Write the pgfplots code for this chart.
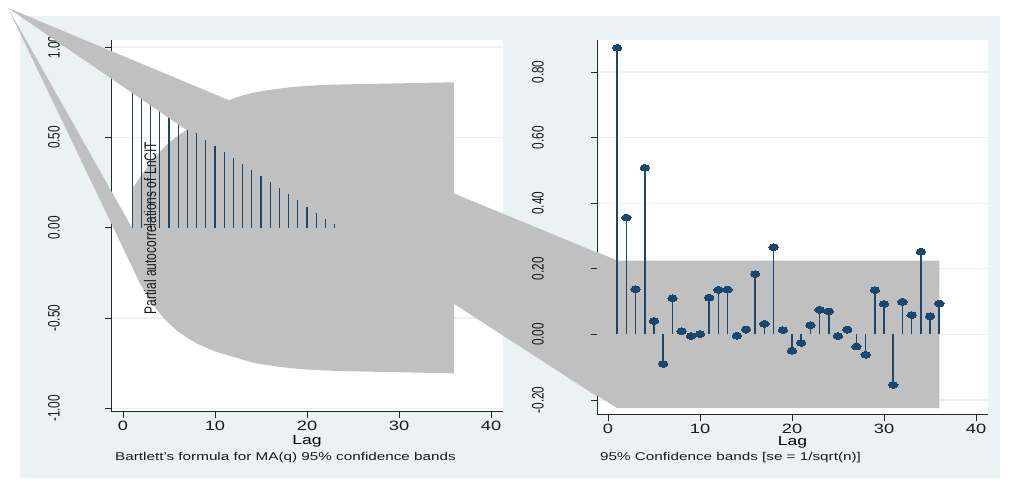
\documentclass[border=0pt]{standalone}
\usepackage{pgfplots}
\pgfplotsset{compat=1.18}
\usepackage{fontspec}
\setmainfont{Liberation Sans}
\usepackage{graphicx}
\definecolor{bgc}{HTML}{EAF2F3}
\definecolor{gridc}{HTML}{EAF2F3}
\definecolor{band}{HTML}{C0C0C0}
\definecolor{spk}{HTML}{1A476F}
\newcommand\sx[1]{\scalebox{1.35}[1]{#1}}
\newcommand\ry[1]{\scalebox{1.4}[1]{\rotatebox{90}{#1}}}
\pgfplotsset{
  stata/.style={
    scale only axis, anchor=south west,
    axis x line*=bottom, axis y line*=left,
    axis line style={line width=1pt, black!85},
    tick style={line width=0.9pt, black!85},
    major tick length=6pt, tick align=outside,
    axis background/.style={fill=white},
    ymajorgrids, major grid style={line width=1.2pt, gridc},
    xtick={0,10,20,30,40},
    xticklabels={\sx{0},\sx{10},\sx{20},\sx{30},\sx{40}},
    xticklabel style={font=\fontsize{13.5}{14}\selectfont, text=black!90},
    yticklabel style={font=\fontsize{11.8}{13}\selectfont, text=black!90, anchor=center, xshift=-51pt},
    xlabel style={font=\fontsize{13}{14}\selectfont, at={(axis description cs:0.5,0)}, anchor=center},
    clip=false,
  }
}
\begin{document}
\begin{tikzpicture}[x=1pt,y=1pt]
\fill[white] (0,0) rectangle (1011,481);
\fill[bgc] (20,3) rectangle (1000,465);
% ---------------- left panel: autocorrelations ----------------
\begin{axis}[stata, at={(111pt,69pt)}, width=392pt, height=372pt,
  xmin=-1.3, xmax=41.3, ymin=-1.02, ymax=1.039,
  ytick={-1,-0.5,0,0.5,1},
  yticklabels={\ry{-1.00},\ry{-0.50},\ry{0.00},\ry{0.50},\ry{1.00}},
  xlabel={\sx{Lag}}, xlabel style={yshift=-29pt}]
% Bartlett confidence band
\addplot[fill=band, draw=none] coordinates {
(1,0.215) (2,0.29) (3,0.36) (4,0.42) (5,0.47) (6,0.51) (7,0.545) (8,0.59)
(9,0.63) (10,0.665) (11,0.695) (12,0.715) (13,0.732) (14,0.745) (15,0.755)
(16,0.763) (17,0.77) (18,0.776) (19,0.781) (20,0.785) (21,0.788) (22,0.79)
(23,0.792) (24,0.793) (25,0.794) (26,0.795) (27,0.796) (28,0.797) (29,0.798)
(30,0.799) (31,0.8) (32,0.801) (33,0.802) (34,0.803) (35,0.804) (36,0.805)
(36,-0.806) (35,-0.805) (34,-0.804) (33,-0.803) (32,-0.802) (31,-0.801)
(30,-0.8) (29,-0.799) (28,-0.798) (27,-0.797) (26,-0.796) (25,-0.795)
(24,-0.794) (23,-0.792) (22,-0.79) (21,-0.788) (20,-0.785) (19,-0.781)
(18,-0.776) (17,-0.77) (16,-0.763) (15,-0.755) (14,-0.745) (13,-0.73)
(12,-0.715) (11,-0.70) (10,-0.684) (9,-0.663) (8,-0.64) (7,-0.61)
(6,-0.575) (5,-0.53) (4,-0.475) (3,-0.405) (2,-0.32) (1,-0.215)
} --cycle;
% stray strip of the band polygon running into the right panel
\addplot[fill=band, draw=none] coordinates {(36,0.1889) (53.7,-0.1833) (53.7,-1.0056) (36,-0.4222)} --cycle;
% autocorrelation spikes
\addplot[ycomb, spk, line width=1.3pt] coordinates {
(1,0.756) (2,0.727) (3,0.694) (4,0.652) (5,0.62) (6,0.589) (7,0.556)
(8,0.522) (9,0.487) (10,0.454) (11,0.42) (12,0.385) (13,0.352) (14,0.319)
(15,0.285) (16,0.252) (17,0.219) (18,0.185) (19,0.152) (20,0.117)
(21,0.083) (22,0.05) (23,0.019)
};
% stray wedges of the band polygon
\addplot[fill=band, draw=none] coordinates {(-12.5,1.2167) (11.52,0.7056) (6.96,0.5389)} --cycle;
\addplot[fill=band, draw=none] coordinates {(-12.5,1.2167) (0.978,0.0) (1.957,-0.322) (0.978,-0.215)} --cycle;
\end{axis}
% ---------------- right panel: partial autocorrelations ----------------
\begin{axis}[stata, at={(597pt,66pt)}, width=391pt, height=375pt,
  xmin=-1.196, xmax=41.3, ymin=-0.2458, ymax=0.8977,
  ytick={-0.2,0,0.2,0.4,0.6,0.8},
  yticklabels={\ry{-0.20},\ry{0.00},\ry{0.20},\ry{0.40},\ry{0.60},\ry{0.80}},
  yticklabel style={xshift=-2pt},
  xlabel={\sx{Lag}}, xlabel style={yshift=-27pt}]
\addplot[fill=band, draw=none] coordinates {
(1,0.225) (36,0.225) (36,-0.225) (1,-0.225) (-1.196,-0.1863) (-1.196,0.2513)
} --cycle;
\addplot[ycomb, spk, line width=1.7pt, mark=*, mark size=3.4pt,
  mark options={xscale=1.4, fill=spk, draw=spk, line width=0pt}] coordinates {
(1,0.874) (2,0.356) (3,0.138) (4,0.508) (5,0.041) (6,-0.090) (7,0.110)
(8,0.010) (9,-0.005) (10,0.001) (11,0.112) (12,0.136) (13,0.137)
(14,-0.004) (15,0.015) (16,0.184) (17,0.032) (18,0.266) (19,0.013)
(20,-0.050) (21,-0.026) (22,0.028) (23,0.075) (24,0.070) (25,-0.005)
(26,0.015) (27,-0.037) (28,-0.062) (29,0.135) (30,0.093) (31,-0.154)
(32,0.099) (33,0.059) (34,0.252) (35,0.055) (36,0.094)
};
\end{axis}
% ---------------- texts ----------------
\node[text=black!90] at (150,253) {\fontsize{12}{14}\selectfont\ry{Partial autocorrelations of LnCIT}};
\node[anchor=west, text=black!90, inner sep=0pt] at (115,23) {\fontsize{11.3}{13}\selectfont\sx{Bartlett's formula for MA(q) 95\% confidence bands}};
\node[anchor=west, text=black!90, inner sep=0pt] at (600,23) {\fontsize{11.3}{13}\selectfont\sx{95\% Confidence bands [se = 1/sqrt(n)]}};
\end{tikzpicture}
\end{document}
